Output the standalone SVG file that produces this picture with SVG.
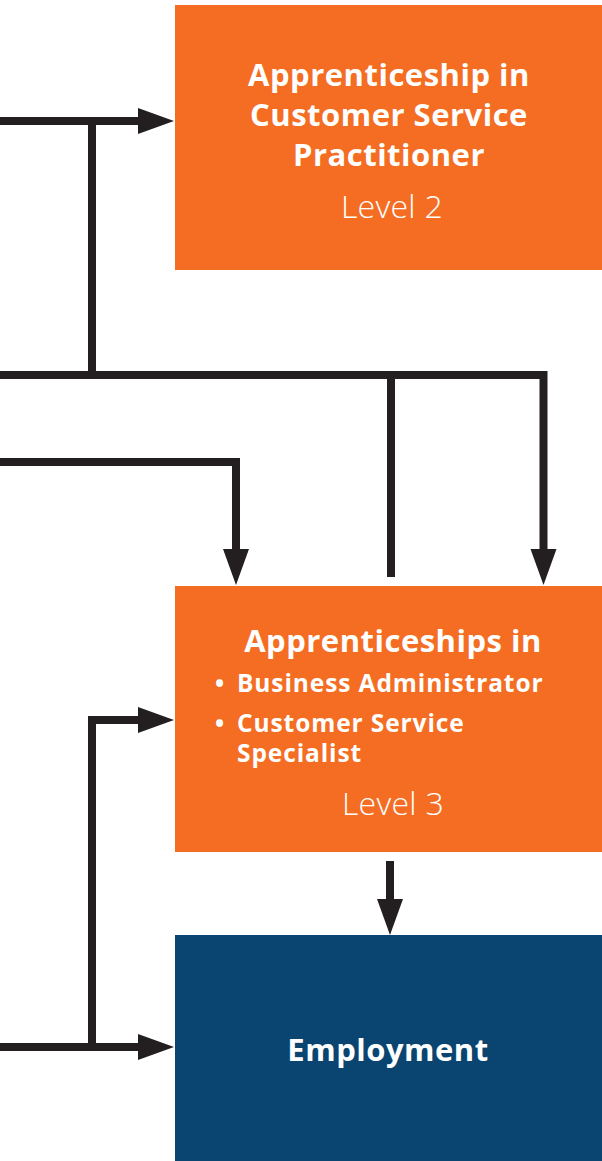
<svg xmlns="http://www.w3.org/2000/svg" width="602" height="1161" viewBox="0 0 602 1161">
<defs>
<marker id="ah" markerUnits="userSpaceOnUse" markerWidth="40" markerHeight="30" refX="0" refY="13" orient="auto" viewBox="0 0 40 30" overflow="visible">
<path d="M0,0 L36,13 L0,26 z" fill="#231F20"/>
</marker>
<style>
.conn{fill:none;stroke:#231F20;stroke-width:8;stroke-linejoin:miter;stroke-linecap:butt}
.org{fill:#F46D22}
.blu{fill:#0A4470}
.t{font-family:"Open Sans","Liberation Sans",sans-serif;fill:#fff;text-anchor:middle}
.b{font-weight:700;font-size:31px;letter-spacing:0.5px}
.l{font-weight:300;font-size:32px;letter-spacing:0.3px}
.s{font-family:"Open Sans","Liberation Sans",sans-serif;fill:#fff;font-weight:700;font-size:24.5px;letter-spacing:0.9px}
</style>
</defs>
<rect width="602" height="1161" fill="#fff"/>
<g id="connectors">
<path class="conn" d="M0,121 H138" marker-end="url(#ah)"/>
<path class="conn" d="M92,121 V375"/>
<path class="conn" d="M0,375 H543.5 V549" marker-end="url(#ah)"/>
<path class="conn" d="M391,375 V577"/>
<path class="conn" d="M0,462 H236 V549" marker-end="url(#ah)"/>
<path class="conn" d="M92,1047 V720 H138" marker-end="url(#ah)"/>
<path class="conn" d="M0,1047 H138" marker-end="url(#ah)"/>
<path class="conn" d="M390,861 V899" marker-end="url(#ah)"/>
</g>
<g id="node-level2">
<rect class="org" x="175" y="5" width="427" height="265"/>
<text class="t b" x="389" y="86">Apprenticeship in</text>
<text class="t b" x="389" y="126">Customer Service</text>
<text class="t b" x="389" y="166">Practitioner</text>
<text class="t l" x="392" y="218">Level 2</text>
</g>
<g id="node-level3">
<rect class="org" x="175" y="586" width="427" height="266"/>
<text class="t b" x="393" y="652">Apprenticeships in</text>
<text class="s" x="215" y="692">•</text>
<text class="s" x="237" y="692">Business Administrator</text>
<text class="s" x="215" y="732">•</text>
<text class="s" x="237" y="732">Customer Service</text>
<text class="s" x="237" y="762">Specialist</text>
<text class="t l" x="393" y="815">Level 3</text>
</g>
<g id="node-employment">
<rect class="blu" x="175" y="935" width="427" height="226"/>
<text class="t b" x="388" y="1061">Employment</text>
</g>
</svg>
